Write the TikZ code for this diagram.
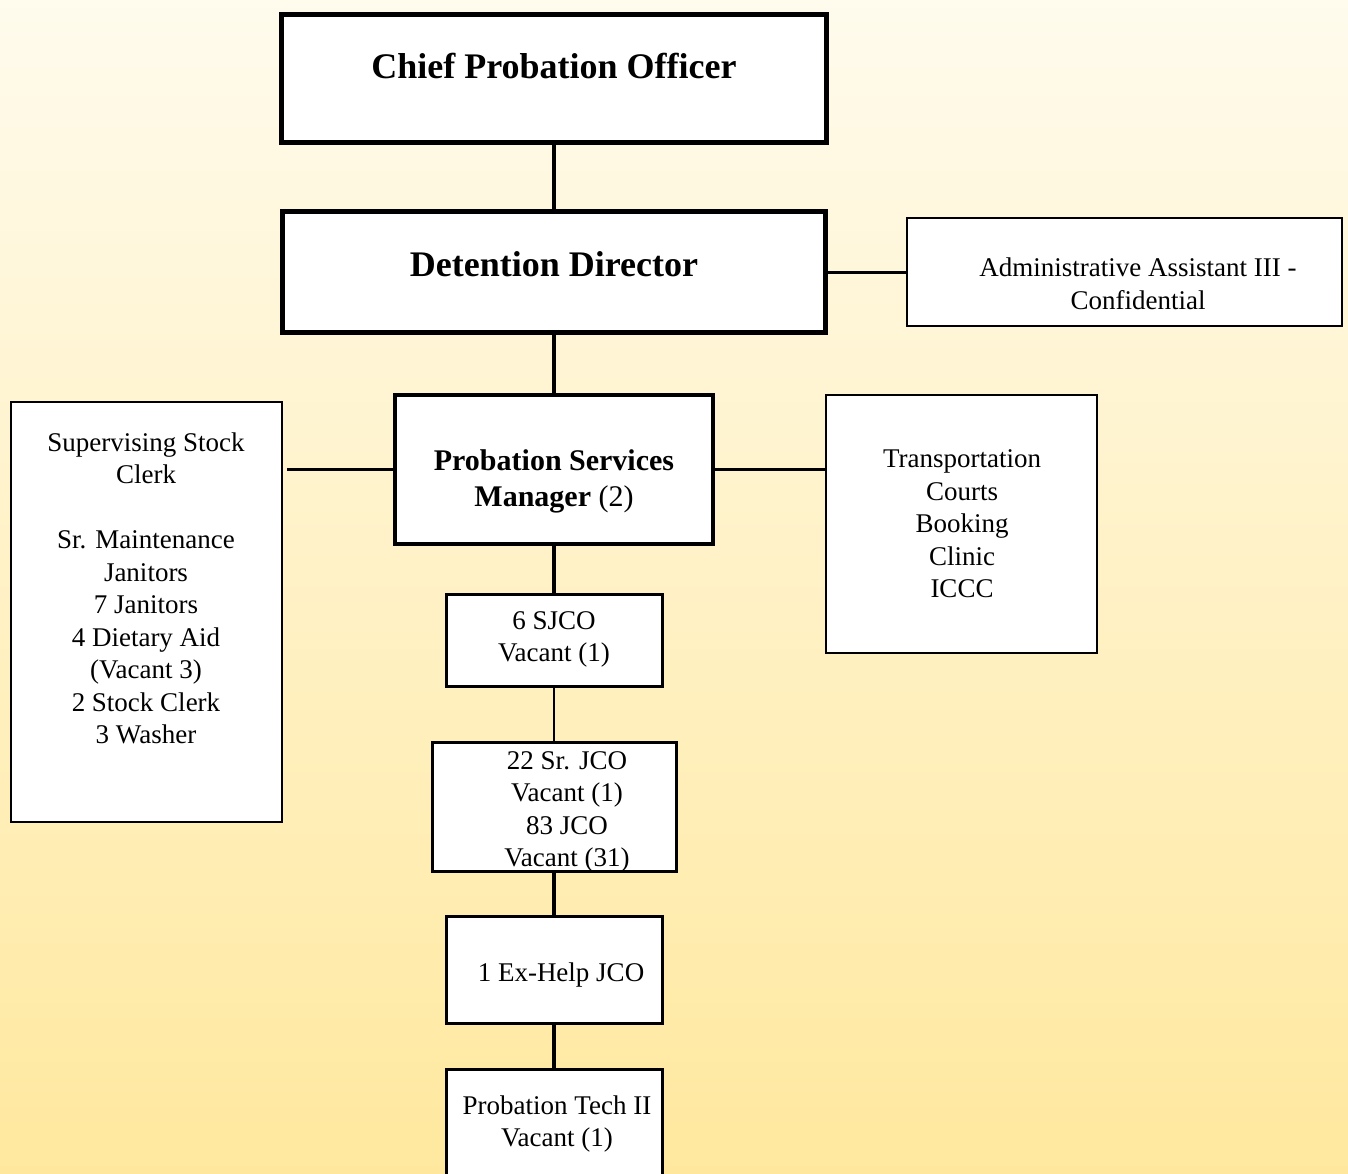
\documentclass[tikz,border=0pt]{standalone}
\usepackage{fontspec}
\setmainfont{Liberation Serif}
\definecolor{bgtop}{RGB}{255,251,237}
\definecolor{bgbot}{RGB}{255,232,158}
\tikzset{
  box/.style={draw=black, fill=white, inner sep=0pt, line width=2.5pt},
  thickbox/.style={box, line width=5pt},
  midbox/.style={box, line width=4pt},
  txt/.style={inner sep=0pt, align=center, font=\fontsize{27}{32.5}\selectfont},
  btxt/.style={inner sep=0pt, align=center, font=\fontsize{36}{43}\selectfont\bfseries},
  conn/.style={draw=black, line width=3pt},
  thickconn/.style={draw=black, line width=4pt},
  thinconn/.style={draw=black, line width=1.5pt}
}
\begin{document}
\begin{tikzpicture}[x=1pt,y=-1pt]
\useasboundingbox (0,0) rectangle (1348,1173);
\clip (0,0) rectangle (1348,1173);
\shade[top color=bgtop, bottom color=bgbot] (0,0) rectangle (1348,1173);

% boxes
\node[thickbox, minimum width=545pt, minimum height=128pt] (cpo) at (554,78.5) {};
\node[thickbox, minimum width=543pt, minimum height=121pt] (dd) at (554,272) {};
\node[box, minimum width=435pt, minimum height=108pt] (admin) at (1124.5,272) {};
\node[midbox, minimum width=318pt, minimum height=149pt] (psm) at (554,469.5) {};
\node[box, minimum width=271pt, minimum height=420pt] (left) at (146.5,612) {};
\node[box, minimum width=271pt, minimum height=258pt] (trans) at (961.5,524) {};
\node[box, line width=3pt, minimum width=216pt, minimum height=92pt] (sjco) at (554,640) {};
\node[box, line width=3pt, minimum width=244pt, minimum height=129pt] (jco) at (554,806.5) {};
\node[box, line width=3pt, minimum width=216pt, minimum height=107pt] (exh) at (554,969.5) {};
\node[box, line width=3pt, minimum width=216pt, minimum height=140pt] (pt) at (554,1139) {};

% texts
\node[btxt, anchor=base] (cpot) at (554,78) {Chief Probation Officer};
\node[btxt, anchor=base] (ddt) at (554,276) {Detention Director};
\node[txt] (admint) at (1138,284) {Administrative Assistant III -\\Confidential};
\node[txt, font=\fontsize{30}{36}\selectfont] (psmt) at (554,481) {\textbf{Probation Services}\\\textbf{Manager} (2)};
\node[txt] (leftt) at (146,588.5) {Supervising Stock\\Clerk\\[32.5pt]Sr. Maintenance\\Janitors\\7 Janitors\\4 Dietary Aid\\(Vacant 3)\\2 Stock Clerk\\3 Washer};
\node[txt] (transt) at (962,524) {Transportation\\Courts\\Booking\\Clinic\\ICCC};
\node[txt] (sjcot) at (554,639.5) {6 SJCO\\Vacant (1)};
\node[txt] (jcot) at (567,812) {22 Sr. JCO\\Vacant (1)\\83 JCO\\Vacant (31)};
\node[txt] (exht) at (561,975) {1 Ex-Help JCO};
\node[txt] (ptt) at (557,1124) {Probation Tech II\\Vacant (1)};

% connectors
\draw[thickconn] (cpo.south) -- (dd.north);
\draw[thickconn] (dd.south) -- (psm.north);
\draw[conn] (dd.east) -- (admin.west |- dd.east);
\draw[line width=3.5pt] (psm.west) -- ([xshift=4pt]left.east |- psm.west);
\draw[conn] (psm.east) -- (trans.west |- psm.east);
\draw[thickconn] (psm.south) -- (sjco.north);
\draw[thinconn] (sjco.south) -- (jco.north);
\draw[thickconn] (jco.south) -- (exh.north);
\draw[thickconn] (exh.south) -- (pt.north);
\end{tikzpicture}
\end{document}
